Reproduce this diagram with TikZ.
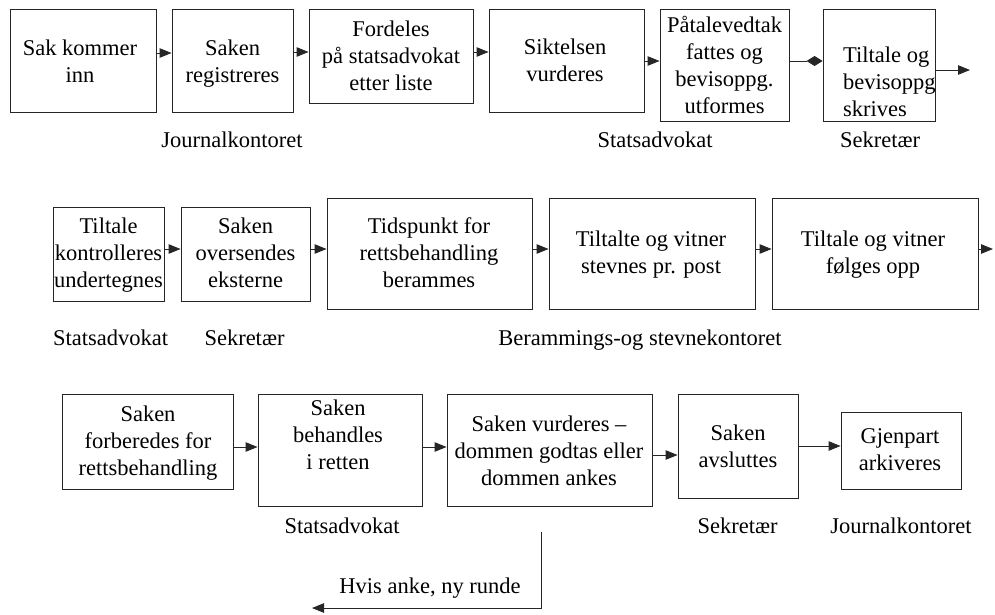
\documentclass[tikz,border=0pt]{standalone}
\usepackage{fontspec}
\setmainfont{Liberation Serif}
\usetikzlibrary{arrows.meta}

% box from corner (x1,y1) to corner (x2,y2)
\newcommand{\procbox}[5]{%
  \node[box, minimum width={#4-#2}, minimum height={#5-#3}] (#1) at ({(#2+#4)/2},{(#3+#5)/2}) {};}

\begin{document}
\begin{tikzpicture}[x=1pt,y=-1pt,
  box/.style={draw=black!85, line width=0.9pt, rectangle, inner sep=0pt},
  txt/.style={font=\fontsize{22.5}{27}\selectfont, align=center, inner sep=0pt,
    execute at begin node=\strut, execute at end node=\strut},
  lbl/.style={font=\fontsize{22.5}{27}\selectfont, inner sep=0pt, anchor=base},
  arr/.style={draw=black!85, line width=0.9pt, -{Triangle[length=12pt,width=9.5pt]}},
  darr/.style={draw=black!85, line width=0.9pt, -{Diamond[length=16pt,width=10pt]}},
]
\useasboundingbox (0,0) rectangle (995,614);

% ---------- first row ----------
\procbox{b1}{10}{9}{156}{112}
\procbox{b2}{172}{9}{293}{112}
\procbox{b3}{309}{9}{473}{103}
\procbox{b4}{489}{9}{644}{112}
\procbox{b5}{660}{9}{789}{121}
\procbox{b6}{823}{9}{935}{121}

\node[txt] (t1) at (80,65.1) {Sak kommer\\inn};
\node[txt] (t2) at (232.5,65.1) {Saken\\registreres};
\node[txt] (t3) at (391,59.6) {Fordeles\\på statsadvokat\\etter liste};
\node[txt] (t4) at (565,64.1) {Siktelsen\\vurderes};
\node[txt] (t5) at (724.5,68.6) {Påtalevedtak\\fattes og\\bevisoppg.\\utformes};
\node[txt, align=left, anchor=west] (t6) at (843,85.6) {Tiltale og\\bevisoppg\\skrives};

\node[lbl] (l1) at (232,147) {Journalkontoret};
\node[lbl] (l2) at (655,147) {Statsadvokat};
\node[lbl] (l3) at (880,147) {Sekretær};

\coordinate (ya) at (0,53);
\coordinate (yb) at (0,52);
\coordinate (yc) at (0,61);
\coordinate (e1s) at (0,70);
\coordinate (e1) at (970,70);
\draw[arr] (b1.east |- ya) -- (b2.west |- ya);
\draw[arr] (b2.east |- yb) -- (b3.west |- yb);
\draw[arr] (b3.east |- yb) -- (b4.west |- yb);
\draw[arr] (b4.east |- yc) -- (b5.west |- yc);
\draw[darr] (b5.east |- yc) -- (b6.west |- yc);
\draw[arr] (b6.east |- e1s) -- (e1);

% ---------- second row ----------
\procbox{bA}{53}{207}{164}{301}
\procbox{bB}{181}{207}{310}{301}
\procbox{bC}{327}{198}{532}{309}
\procbox{bD}{549}{198}{755}{309}
\procbox{bE}{772}{198}{978}{309}

\node[txt] (tA) at (108.5,256.6) {Tiltale\\kontrolleres\\undertegnes};
\node[txt] (tB) at (245.5,256.6) {Saken\\oversendes\\eksterne};
\node[txt] (tC) at (429,256.6) {Tidspunkt for\\rettsbehandling\\berammes};
\node[txt] (tD) at (651,256.1) {Tiltalte og vitner\\stevnes pr. post};
\node[txt] (tE) at (873,256.1) {Tiltale og vitner\\følges opp};

\node[lbl] (l4) at (110.5,345) {Statsadvokat};
\node[lbl] (l5) at (244.5,345) {Sekretær};
\node[lbl] (l6) at (640,345) {Berammings-og stevnekontoret};

\coordinate (yd) at (0,249);
\coordinate (e2) at (993,249);
\draw[arr] (bA.east |- yd) -- (bB.west |- yd);
\draw[arr] (bB.east |- yd) -- (bC.west |- yd);
\draw[arr] (bC.east |- yd) -- (bD.west |- yd);
\draw[arr] (bD.east |- yd) -- (bE.west |- yd);
\draw[arr] (bE.east |- yd) -- (e2);

% ---------- third row ----------
\procbox{bP}{62}{394}{233}{489}
\procbox{bQ}{258}{394}{422}{506}
\procbox{bR}{447}{394}{652}{506}
\procbox{bS}{678}{394}{798}{498}
\procbox{bT}{841}{412}{961}{489}

\node[txt] (tP) at (148,444.6) {Saken\\forberedes for\\rettsbehandling};
\node[txt] (tQ) at (338,438.6) {Saken\\behandles\\i retten};
\node[txt] (tR) at (549,454.6) {Saken vurderes –\\dommen godtas eller\\dommen ankes};
\node[txt] (tS) at (738,450.1) {Saken\\avsluttes};
\node[txt] (tT) at (900,453.1) {Gjenpart\\arkiveres};

\node[lbl] (l7) at (342,533) {Statsadvokat};
\node[lbl] (l8) at (737.5,533) {Sekretær};
\node[lbl] (l9) at (901,533) {Journalkontoret};
\node[lbl] (l10) at (430,593) {Hvis anke, ny runde};

\coordinate (ye) at (0,447);
\coordinate (yf) at (0,455);
\coordinate (yg) at (0,446);
\draw[arr] (bP.east |- ye) -- (bQ.west |- ye);
\draw[arr] (bQ.east |- ye) -- (bR.west |- ye);
\draw[arr] (bR.east |- yf) -- (bS.west |- yf);
\draw[arr] (bS.east |- yg) -- (bT.west |- yg);

% appeal loop back
\coordinate (lp1) at (541,532);
\coordinate (lp2) at (541,608);
\coordinate (lp3) at (312,608);
\draw[arr] (lp1) -- (lp2) -- (lp3);

\end{tikzpicture}
\end{document}
